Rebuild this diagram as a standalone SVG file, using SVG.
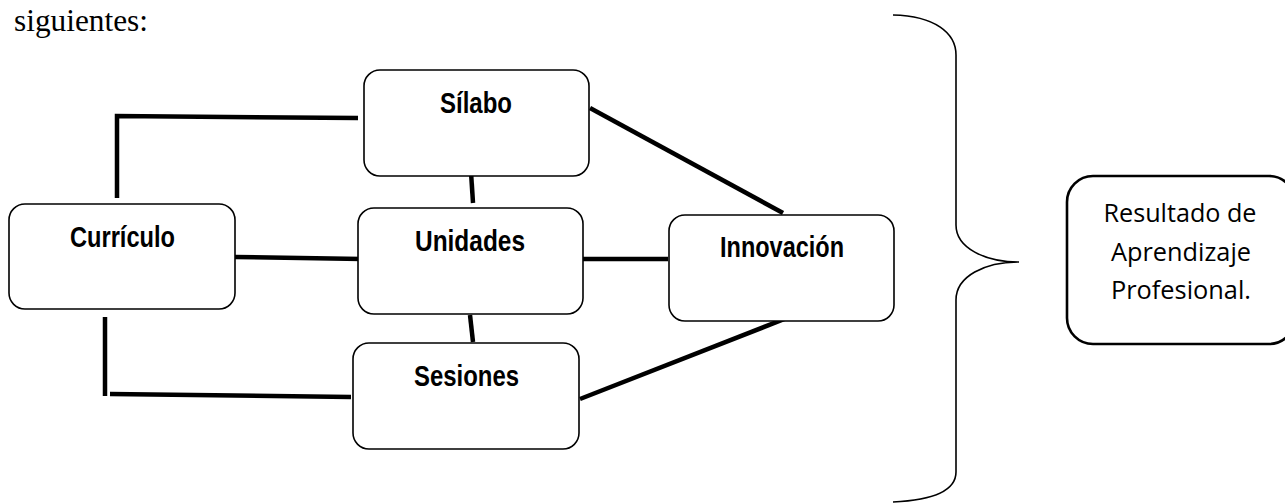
<svg xmlns="http://www.w3.org/2000/svg" width="1285" height="504" viewBox="0 0 1285 504">
<style>
.box{fill:#fff;stroke:#000;stroke-width:1.6}
.res{fill:#fff;stroke:#000;stroke-width:2.6}
.lbl{font-family:"Liberation Sans",Arial,sans-serif;font-weight:bold;font-size:29px;fill:#000;text-anchor:middle}
.rt{font-family:"Open Sans","Noto Sans",sans-serif;font-size:25px;fill:#000;text-anchor:middle}
.c{stroke:#000;stroke-width:4.5;fill:none}
</style>
<rect width="1285" height="504" fill="#fff"/>
<text x="14" y="31" font-family="Liberation Serif,'Times New Roman',serif" font-size="31" textLength="134" lengthAdjust="spacingAndGlyphs">siguientes:</text>
<g id="connectors">
<polyline class="c" points="117,198 117,116 358,118"/>
<line class="c" x1="235" y1="257" x2="362" y2="259"/>
<line class="c" x1="105" y1="317" x2="105" y2="396"/>
<line class="c" x1="110" y1="394" x2="351" y2="397"/>
<line class="c" x1="471" y1="172" x2="473" y2="203"/>
<line class="c" x1="590" y1="108" x2="783" y2="213"/>
<line class="c" x1="580" y1="259" x2="668" y2="259"/>
<line class="c" x1="470" y1="315" x2="473" y2="342"/>
<line class="c" x1="580" y1="399" x2="787" y2="318"/>
</g>
<g id="silabo"><rect class="box" x="364" y="70" width="225" height="106" rx="16"/><text class="lbl" x="476" y="113" textLength="72" lengthAdjust="spacingAndGlyphs">Sílabo</text></g>
<g id="curriculo"><rect class="box" x="9" y="204" width="226" height="105" rx="16"/><text class="lbl" x="122.5" y="247" textLength="105" lengthAdjust="spacingAndGlyphs">Currículo</text></g>
<g id="unidades"><rect class="box" x="358" y="208" width="225" height="106" rx="16"/><text class="lbl" x="470" y="251" textLength="110" lengthAdjust="spacingAndGlyphs">Unidades</text></g>
<g id="innovacion"><rect class="box" x="669" y="215" width="225" height="106" rx="16"/><text class="lbl" x="782" y="257" textLength="124" lengthAdjust="spacingAndGlyphs">Innovación</text></g>
<g id="sesiones"><rect class="box" x="353" y="343" width="226" height="106" rx="16"/><text class="lbl" x="466.5" y="386" textLength="105" lengthAdjust="spacingAndGlyphs">Sesiones</text></g>
<g id="brace"><path d="M893,15 C935,16 956,33 956,55 L956,225 C956,248 985,262 1019,262 C985,262 956,276 956,300 L956,472 C956,490 935,500 893,502" fill="none" stroke="#000" stroke-width="1.6"/></g>
<g id="resultado"><rect class="res" x="1067" y="176" width="228" height="168" rx="26"/>
<text class="rt" x="1180" y="222" textLength="153" lengthAdjust="spacingAndGlyphs">Resultado de</text>
<text class="rt" x="1181" y="261" textLength="140" lengthAdjust="spacingAndGlyphs">Aprendizaje</text>
<text class="rt" x="1181" y="299" textLength="140" lengthAdjust="spacingAndGlyphs">Profesional.</text></g>
</svg>
